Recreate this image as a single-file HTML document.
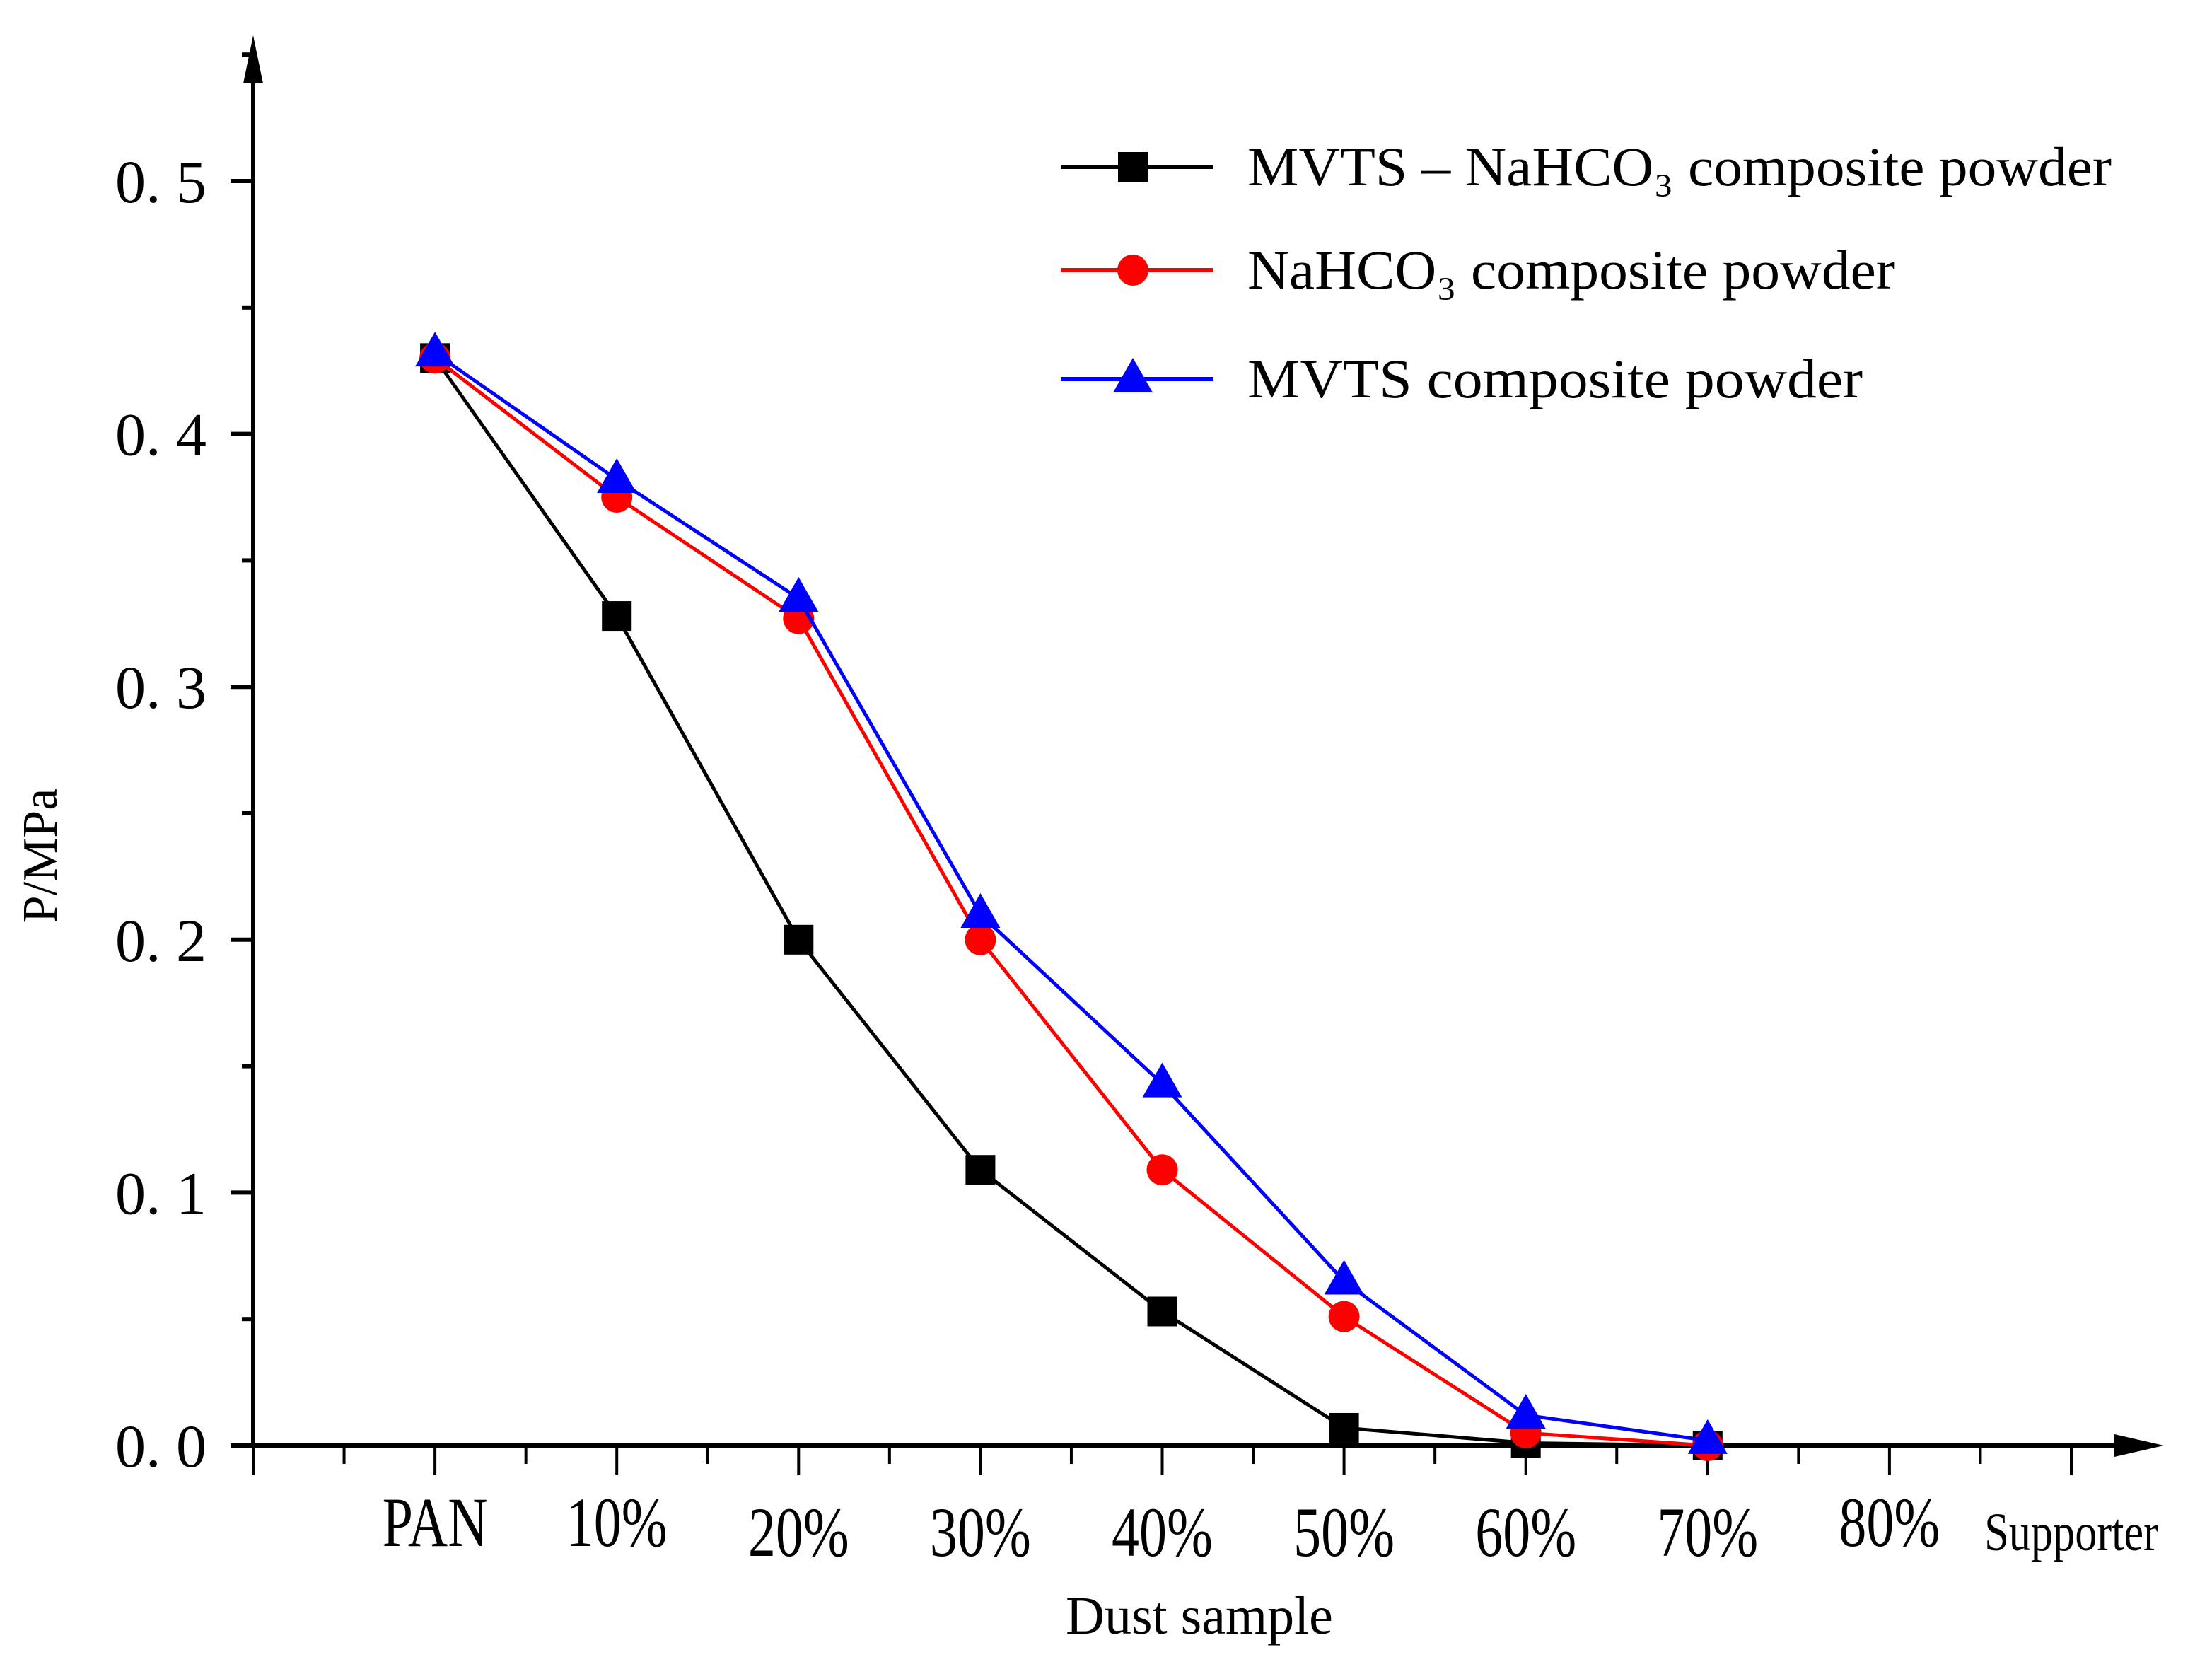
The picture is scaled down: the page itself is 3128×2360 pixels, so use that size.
<!DOCTYPE html>
<html><head><meta charset="utf-8"><style>html,body{margin:0;padding:0;background:#fff}svg{display:block}</style></head>
<body>
<svg id="chart" width="3128" height="2360" viewBox="0 0 3128 2360" xmlns="http://www.w3.org/2000/svg" font-family="'Liberation Serif', serif">
<g id="axes"></g>
<g id="series"></g>
<g id="legend"></g>
</svg>
<script>
const categories = ["PAN","10%","20%","30%","40%","50%","60%","70%","80%","Supporter"];
const yTicks = [0.0,0.1,0.2,0.3,0.4,0.5];
const yTickLabels = ["0. 0","0. 1","0. 2","0. 3","0. 4","0. 5"];
const seriesNames = ["MVTS \u2013 NaHCO\u2083 composite powder","NaHCO\u2083 composite powder","MVTS  composite powder"];
const blackValues = [0.430,0.328,0.200,0.109,0.053,0.007,0.001,0.000];
const redValues = [0.430,0.375,0.327,0.200,0.109,0.051,0.005,0.000];
const blueValues = [0.432,0.382,0.335,0.210,0.143,0.065,0.012,0.002];

const NS="http://www.w3.org/2000/svg";
const X0=358, DX=257.1, Y0=2044, PY=3576;
function xPos(i){return X0+(i+1)*DX;}
function yPos(v){return Y0-v*PY;}
function mk(tag,attrs,parent){const e=document.createElementNS(NS,tag);for(const k in attrs)e.setAttribute(k,attrs[k]);parent.appendChild(e);return e;}
const axes=document.getElementById('axes'), series=document.getElementById('series'), legend=document.getElementById('legend');

let e=mk('line',{x1:X0,y1:2044,x2:X0,y2:80,stroke:'#000','stroke-width':6},axes);


e=mk('polygon',{points:`${X0-14},118 ${X0+14},118 ${X0},50`,fill:'#000'},axes);


for(let k=0;k<=11;k++){const v=k*0.05;const y=yPos(v);const major=k%2===0;
 e=mk('line',{x1:major?X0-32:X0-16,y1:y,x2:X0,y2:y,stroke:'#000','stroke-width':6},axes);
 
 }
yTicks.forEach((v,i)=>{e=mk('text',{x:292,y:yPos(v)+30,'text-anchor':'end','font-size':86,fill:'#000'},axes);e.textContent=yTickLabels[i];
 
 });
e=mk('line',{x1:X0-3,y1:Y0,x2:3020,y2:Y0,stroke:'#000','stroke-width':8},axes);


e=mk('polygon',{points:`2990,${Y0-16} 2990,${Y0+16} 3060,${Y0}`,fill:'#000'},axes);


for(let k=0;k<=20;k++){const x=X0+k*DX/2;const major=k%2===0;
 e=mk('line',{x1:x,y1:Y0,x2:x,y2:major?Y0+42:Y0+26,stroke:'#000','stroke-width':4},axes);
 
 }
categories.forEach((c,i)=>{const sup=c==="Supporter";
 const yb=(c==="PAN"||c==="10%"||c==="80%")?2186:2200;
 e=mk('text',{x:xPos(i),y:sup?2192:yb,'text-anchor':'middle','font-size':sup?76:100,fill:'#000'},axes);
 e.setAttribute('transform',`translate(${xPos(i)},0) scale(${sup?0.82:0.78},1) translate(${-xPos(i)},0)`);
 e.textContent=c;
 
 });
e=mk('text',{x:1696,y:2310,'text-anchor':'middle','font-size':76,fill:'#000'},axes);e.textContent="Dust sample";


e=mk('text',{x:0,y:0,'text-anchor':'middle','font-size':70,fill:'#000',transform:'translate(80,1210) rotate(-90)'},axes);e.textContent="P/MPa";



function marker(type,x,y,color,parent){
 if(type==='square')return mk('rect',{x:x-21,y:y-21,width:42,height:42,fill:color},parent);
 if(type==='circle')return mk('circle',{cx:x,cy:y,r:22,fill:color},parent);
 return mk('polygon',{points:`${x},${y-30} ${x-28},${y+19} ${x+28},${y+19}`,fill:color},parent);}
const defs=[[blackValues,'#000','square','series-mvts-nahco3'],[redValues,'#f00','circle','series-nahco3'],[blueValues,'#00f','triangle','series-mvts']];
defs.forEach(([vals,color,type,name])=>{
 const g=mk('g',{},series);
 
 
 const pl=mk('polyline',{points:vals.map((v,i)=>xPos(i)+','+yPos(v)).join(' '),fill:'none',stroke:color,'stroke-width':5},g);
 
 
 vals.forEach((v,i)=>{const m=marker(type,xPos(i),yPos(v),color,g);
  
  });
});
const ly=[236,382,536];
defs.forEach(([vals,color,type,name],i)=>{
 const g=mk('g',{},legend);
 
 
 mk('line',{x1:1500,y1:ly[i],x2:1716,y2:ly[i],stroke:color,'stroke-width':6},g);
 marker(type,1602,ly[i],color,g);
 const t=mk('text',{x:1764,y:ly[i]+26,'font-size':78,fill:'#000'},g);
 t.textContent=seriesNames[i];
 
 
 const w=[1222,916,870][i];
 t.setAttribute('textLength',w);t.setAttribute('lengthAdjust','spacingAndGlyphs');
});
</script>
</body></html>
